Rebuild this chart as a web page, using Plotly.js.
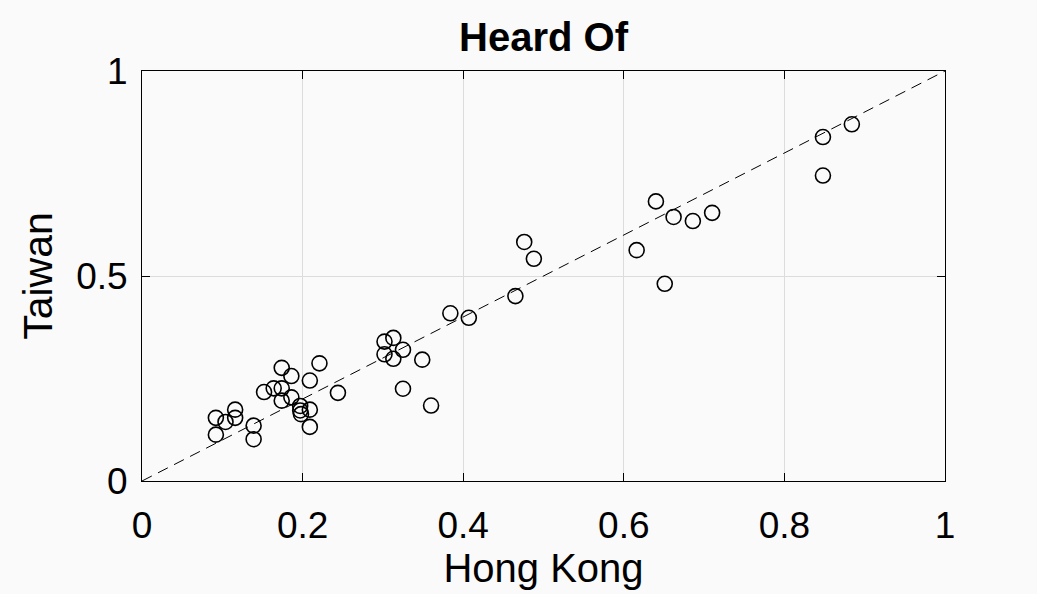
<!DOCTYPE html>
<html>
<head>
<meta charset="utf-8">
<script src="https://cdn.plot.ly/plotly-3.0.1.min.js"></script>
<style>html,body{margin:0;padding:0;background:#fafafa;}#chart{width:1037px;height:594px;}</style>
</head>
<body>
<div id="chart"></div>
<script>
const hongKong = [0.884,0.848,0.848,0.640,0.662,0.686,0.710,0.616,0.651,0.476,0.488,0.465,0.384,0.407,
  0.302,0.313,0.325,0.302,0.313,0.349,0.325,0.360,0.221,0.209,0.244,
  0.092,0.092,0.104,0.116,0.116,0.139,0.139,0.152,0.164,0.174,0.174,0.174,0.186,0.186,
  0.197,0.197,0.198,0.209,0.209];
const taiwan = [0.870,0.839,0.745,0.682,0.644,0.634,0.654,0.563,0.481,0.583,0.542,0.451,0.409,0.398,
  0.340,0.349,0.320,0.309,0.298,0.296,0.225,0.184,0.287,0.245,0.215,
  0.154,0.113,0.144,0.174,0.154,0.135,0.102,0.217,0.226,0.276,0.226,0.196,0.256,0.204,
  0.183,0.172,0.163,0.174,0.132];
const refLine = [0, 1];
const tickVals = [0, 0.2, 0.4, 0.6, 0.8, 1];
const tickText = ['0', '0.2', '0.4', '0.6', '0.8', '1'];
const yTickVals = [0, 0.5, 1];
const yTickText = ['0', '0.5', '1'];

const traces = [
  {x: refLine, y: refLine, mode: 'lines', line: {color: '#000', width: 1, dash: '11px,7px'}, hoverinfo: 'skip'},
  {x: hongKong, y: taiwan, mode: 'markers', type: 'scatter',
   marker: {symbol: 'circle-open', size: 15, color: '#000', line: {width: 1.6, color: '#000'}}}
];
const font = {family: 'Liberation Sans, Arial, sans-serif', color: '#000'};
const layout = {
  width: 1037, height: 594,
  paper_bgcolor: '#fafafa', plot_bgcolor: '#fafafa',
  showlegend: false,
  margin: {l: 141.5, r: 91.5, t: 71, b: 112.5},
  font: font,
  title: {text: '<b>Heard Of</b>', font: {family: font.family, size: 40, color: '#000'}, xref: 'paper', x: 0.5, xanchor: 'center', y: 0.938, yanchor: 'middle'},
  xaxis: {range: [0, 1], tickvals: tickVals, ticktext: tickText, ticks: 'inside', ticklen: 8, tickcolor: '#000',
    showgrid: true, gridcolor: '#dcdcdc', gridwidth: 1, zeroline: false, showline: true, linecolor: '#000', linewidth: 1, mirror: 'ticks',
    tickfont: {size: 37, color: '#000'}, ticklabelstandoff: 12,
    title: {text: 'Hong Kong', font: {size: 40, color: '#000'}, standoff: 6}},
  yaxis: {range: [0, 1], tickvals: yTickVals, ticktext: yTickText, ticks: 'inside', ticklen: 8, tickcolor: '#000',
    showgrid: true, gridcolor: '#dcdcdc', gridwidth: 1, zeroline: false, showline: true, linecolor: '#000', linewidth: 1, mirror: 'ticks',
    tickfont: {size: 37, color: '#000'}, ticklabelstandoff: 6,
    title: {text: 'Taiwan', font: {size: 41, color: '#000'}, standoff: 10}}
};
Plotly.newPlot('chart', traces, layout, {displayModeBar: false, staticPlot: true});
</script>
</body>
</html>
